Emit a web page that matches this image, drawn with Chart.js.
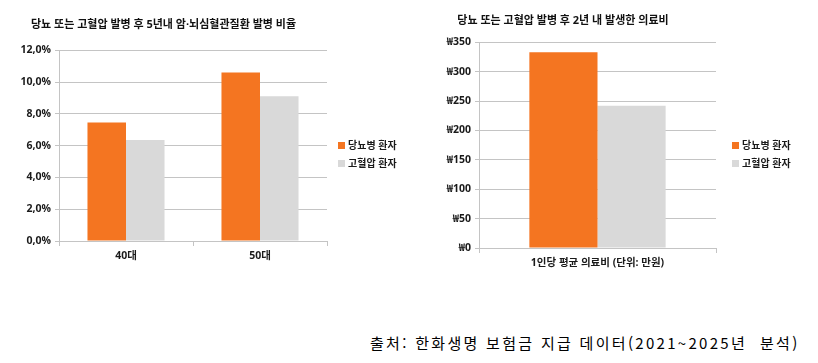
<!DOCTYPE html>
<html lang="ko">
<head>
  <meta charset="UTF-8">
  <title>당뇨·고혈압 발병 비교</title>
  <script src="https://cdn.jsdelivr.net/npm/chart.js"></script>
  <style>
    body {
      margin: 0;
      width: 818px;
      height: 363px;
      background: #fff;
      position: relative;
      overflow: hidden;
      font-family: "Open Sans", "Noto Sans CJK KR", sans-serif;
    }
    .chart-box {
      position: absolute;
      top: 0;
      height: 290px;
    }
    .legend {
      position: absolute;
      font-size: 10px;
      font-weight: bold;
      color: #1a1a1a;
    }
    .legend div {
      position: absolute;
      white-space: nowrap;
      line-height: 12px;
    }
    .legend span {
      display: inline-block;
      width: 7px;
      height: 7px;
      margin-right: 3px;
      vertical-align: 0px;
    }
    .source {
      position: absolute;
      left: 370px;
      top: 332px;
      font-family: "Noto Sans CJK KR", sans-serif;
      font-size: 15px;
      letter-spacing: 2.3px;
      color: #000;
      white-space: pre;
    }
  </style>
</head>
<body>
  <div class="chart-box" style="left:0; width:394px;"><canvas id="riskChart"></canvas></div>
  <div class="chart-box" style="left:410px; width:400px;"><canvas id="costChart"></canvas></div>
  <div class="legend" id="riskLegend" style="left:338px; top:139px;"></div>
  <div class="legend" id="costLegend" style="left:732px; top:139px;"></div>
  <div class="source">출처: 한화생명 보험금 지급 데이터(2021~2025년  분석)</div>

  <script>
    const seriesNames = ['당뇨병 환자', '고혈압 환자'];
    const seriesColors = ['#F47521', '#D9D9D9'];

    const riskCategories = ['40대', '50대'];
    const riskDiabetes = [7.45, 10.6];
    const riskHypertension = [6.35, 9.1];
    const riskTicks = ['0,0%', '2,0%', '4,0%', '6,0%', '8,0%', '10,0%', '12,0%'];

    const costCategories = ['1인당 평균 의료비 (단위: 만원)'];
    const costDiabetes = [333];
    const costHypertension = [242];
    const costTicks = ['₩0', '₩50', '₩100', '₩150', '₩200', '₩250', '₩300', '₩350'];

    const fontFamily = '"Open Sans", "Noto Sans CJK KR", sans-serif';
    const gridColor = '#C4C4C4';
    const textColor = '#1a1a1a';

    function makeChart(canvasId, opts) {
      const ctx = document.getElementById(canvasId).getContext('2d');
      return new Chart(ctx, {
        type: 'bar',
        data: {
          labels: opts.labels,
          datasets: [
            { label: seriesNames[0], data: opts.values[0], backgroundColor: seriesColors[0] },
            { label: seriesNames[1], data: opts.values[1], backgroundColor: seriesColors[1] }
          ]
        },
        options: {
          responsive: true,
          maintainAspectRatio: false,
          animation: false,
          devicePixelRatio: 1,
          categoryPercentage: 0.575,
          barPercentage: 1,
          layout: { padding: opts.padding },
          plugins: {
            legend: { display: false },
            tooltip: { enabled: false },
            title: {
              display: true,
              text: opts.title,
              color: '#111',
              font: { family: fontFamily, size: 11, weight: 'bold' },
              padding: opts.titlePadding
            }
          },
          scales: {
            x: {
              grid: { display: true, drawOnChartArea: false, color: gridColor, tickLength: 5, offset: true },
              border: { color: gridColor },
              ticks: { color: textColor, padding: 4, font: { family: fontFamily, size: 10.5, weight: 'bold' } },
              afterFit: s => { s.height = 30; }
            },
            y: {
              min: 0,
              max: opts.max,
              grid: { color: gridColor, tickLength: 4 },
              border: { color: gridColor },
              ticks: {
                stepSize: opts.step,
                color: textColor,
                padding: 4,
                font: { family: fontFamily, size: 10.5, weight: 'bold' },
                callback: (v, i) => opts.tickLabels[i]
              },
              afterFit: s => { s.width = opts.axisWidth; }
            }
          }
        }
      });
    }

    function makeLegend(id) {
      const box = document.getElementById(id);
      seriesNames.forEach((name, i) => {
        const row = document.createElement('div');
        row.style.top = (i * 17.5) + 'px';
        row.innerHTML = '<span style="background:' + seriesColors[i] + '"></span>' + name;
        box.appendChild(row);
      });
    }

    makeChart('riskChart', {
      labels: riskCategories,
      values: [riskDiabetes, riskHypertension],
      title: '당뇨 또는 고혈압 발병 후 5년내 암·뇌심혈관질환 발병 비율',
      titlePadding: { top: 18, bottom: 19 },
      padding: { left: 0, right: 67, top: 0, bottom: 19 },
      max: 12, step: 2, tickLabels: riskTicks, axisWidth: 59
    });

    makeChart('costChart', {
      labels: costCategories,
      values: [costDiabetes, costHypertension],
      title: '당뇨 또는 고혈압 발병 후 2년 내 발생한 의료비',
      titlePadding: { top: 14, bottom: 15 },
      padding: { left: 0, right: 94, top: 0, bottom: 12 },
      max: 350, step: 50, tickLabels: costTicks, axisWidth: 69
    });

    makeLegend('riskLegend');
    makeLegend('costLegend');
  </script>
</body>
</html>
